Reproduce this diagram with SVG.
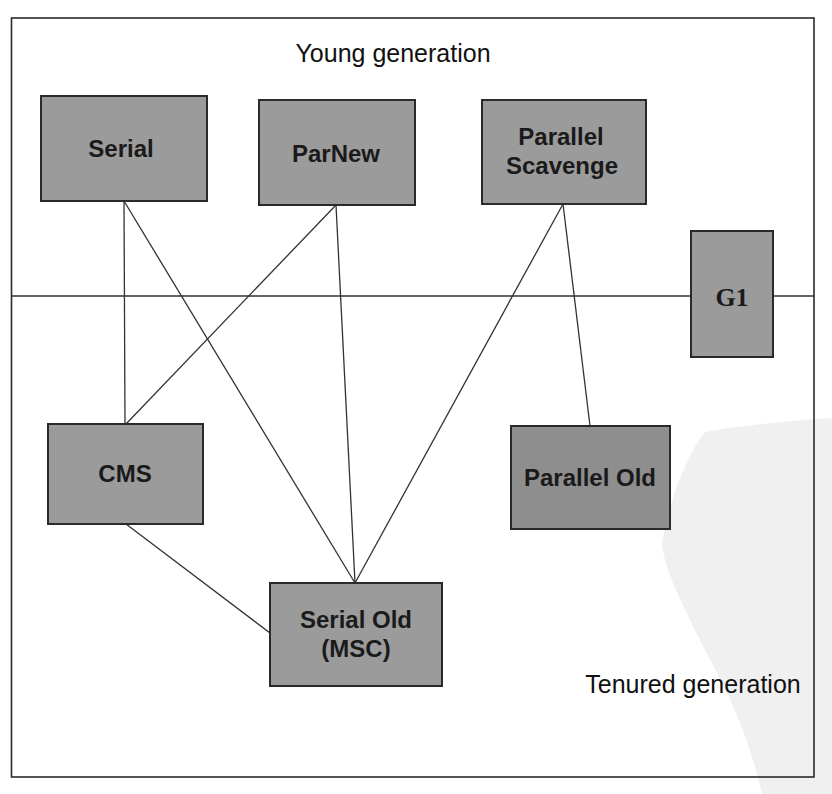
<svg xmlns="http://www.w3.org/2000/svg" width="832" height="794" viewBox="0 0 832 794">
<style>
.box{fill:#9b9b9b;stroke:#2a2a2a;stroke-width:2}
.lbl{font-family:"Liberation Sans",Arial,sans-serif;font-weight:bold;font-size:24px;fill:#1a1a1a;text-anchor:middle}
.cap{font-family:"Liberation Sans",Arial,sans-serif;font-size:25px;fill:#111}
.conn line{stroke:#333;stroke-width:1.3}
</style>
<rect width="832" height="794" fill="#fff"/>
<path id="watermark" d="M705,432 C740,425 800,420 832,418 L832,794 L762,794 C745,720 720,680 700,640 C680,600 665,570 662,545 C668,500 690,450 705,432 Z" fill="#f0f0f0"/>
<g id="frame">
<rect x="11.5" y="18" width="802.5" height="759" fill="none" stroke="#2a2a2a" stroke-width="1.6"/>
<line x1="11.5" y1="296" x2="814" y2="296" stroke="#333" stroke-width="1.5"/>
</g>
<text class="cap" x="393" y="62" text-anchor="middle">Young generation</text>
<text class="cap" x="693" y="693" text-anchor="middle">Tenured generation</text>
<g class="conn" id="connectors">
<line x1="124" y1="201" x2="125" y2="424"/>
<line x1="124" y1="201" x2="355" y2="583"/>
<line x1="336" y1="205" x2="126" y2="424"/>
<line x1="336" y1="205" x2="355" y2="583"/>
<line x1="563" y1="204" x2="355" y2="583"/>
<line x1="563" y1="204" x2="590" y2="426"/>
<line x1="126" y1="524" x2="270" y2="633"/>
</g>
<g id="serial"><rect class="box" x="41" y="96" width="166" height="105"/><text class="lbl" x="121" y="157">Serial</text></g>
<g id="parnew"><rect class="box" x="259" y="100" width="156" height="105"/><text class="lbl" x="336" y="162">ParNew</text></g>
<g id="parallel-scavenge"><rect class="box" x="482" y="100" width="164" height="104"/><text class="lbl" x="561" y="145">Parallel</text><text class="lbl" x="562" y="174">Scavenge</text></g>
<g id="g1"><rect class="box" x="691" y="231" width="82" height="126"/><text x="732" y="306" font-family="'Liberation Serif','DejaVu Serif',serif" font-weight="bold" font-size="26" fill="#1a1a1a" text-anchor="middle">G1</text></g>
<g id="cms"><rect class="box" x="48" y="424" width="155" height="100"/><text class="lbl" x="125" y="482">CMS</text></g>
<g id="parallel-old"><rect class="box" x="511" y="426" width="159" height="103" style="fill:#8e8e8e"/><text class="lbl" x="590" y="486">Parallel Old</text></g>
<g id="serial-old"><rect class="box" x="270" y="583" width="172" height="103"/><text class="lbl" x="356" y="628">Serial Old</text><text class="lbl" x="356" y="657">(MSC)</text></g>
</svg>
